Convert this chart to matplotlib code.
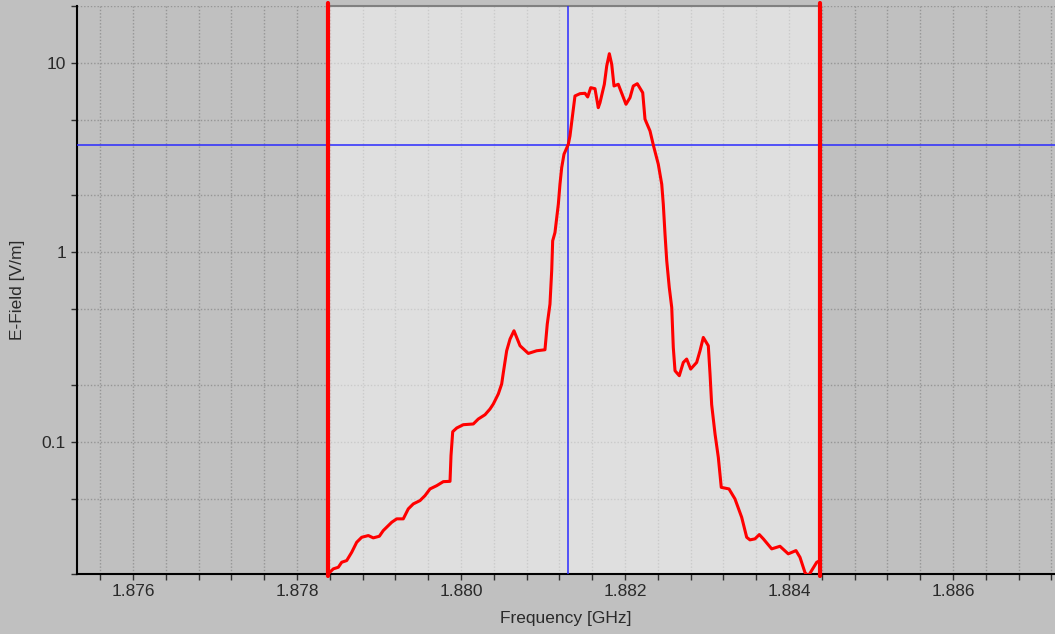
import numpy as np
import matplotlib.pyplot as plt

plt.rcParams['font.family'] = ['Liberation Sans', 'DejaVu Sans']

# spectrum trace
freq_ghz = [
    1.878378, 1.878443, 1.878504, 1.878545, 1.878606, 1.878667, 1.878728, 1.878789,
    1.878870, 1.878930, 1.879004, 1.879052, 1.879155, 1.879216, 1.879296, 1.879357,
    1.879418, 1.879500, 1.879561, 1.879622, 1.879704, 1.879784, 1.879866, 1.879878,
    1.879899, 1.879948, 1.880028, 1.880150, 1.880211, 1.880293, 1.880354, 1.880394,
    1.880455, 1.880496, 1.880516, 1.880557, 1.880598, 1.880646, 1.880720, 1.880821,
    1.880923, 1.881024, 1.881052, 1.881085, 1.881106, 1.881118, 1.881146, 1.881187,
    1.881207, 1.881228, 1.881256, 1.881309, 1.881329, 1.881362, 1.881390, 1.881451,
    1.881512, 1.881545, 1.881582, 1.881634, 1.881674, 1.881695, 1.881748, 1.881777,
    1.881809, 1.881838, 1.881866, 1.881918, 1.882012, 1.882061, 1.882101, 1.882150,
    1.882216, 1.882244, 1.882305, 1.882345, 1.882406, 1.882448, 1.882467, 1.882488,
    1.882509, 1.882540, 1.882570, 1.882589, 1.882610, 1.882662, 1.882711, 1.882752,
    1.882801, 1.882874, 1.882915, 1.882955, 1.883016, 1.883037, 1.883057, 1.883098,
    1.883138, 1.883174, 1.883268, 1.883341, 1.883423, 1.883484, 1.883524, 1.883585,
    1.883638, 1.883687, 1.883789, 1.883890, 1.883991, 1.884085, 1.884134, 1.884195,
    1.884235, 1.884338, 1.884378,
]
efield_vm = [
    0.0200, 0.02129, 0.02171, 0.02307, 0.02355, 0.02604, 0.02942, 0.03126,
    0.03192, 0.03103, 0.03165, 0.03392, 0.03752, 0.03911, 0.03911, 0.04415,
    0.04690, 0.04884, 0.05188, 0.05628, 0.05857, 0.06149, 0.06172, 0.08435,
    0.1129, 0.1181, 0.1229, 0.1240, 0.1317, 0.1388, 0.1488, 0.1581,
    0.1786, 0.2016, 0.2312, 0.3021, 0.3483, 0.3853, 0.3210, 0.2924,
    0.3021, 0.3058, 0.4179, 0.5326, 0.7987, 1.150, 1.272, 1.796,
    2.291, 2.803, 3.298, 3.724, 4.119, 5.363, 6.697, 6.886,
    6.919, 6.616, 7.407, 7.317, 5.808, 6.171, 7.719, 9.642,
    11.197, 9.843, 7.561, 7.719, 6.053, 6.560, 7.561, 7.775,
    6.970, 5.046, 4.376, 3.692, 2.920, 2.291, 1.796, 1.247,
    0.9018, 0.6518, 0.5112, 0.3144, 0.2369, 0.2230, 0.2621, 0.2731,
    0.2418, 0.2621, 0.3021, 0.3551, 0.3210, 0.2277, 0.1568, 0.1098,
    0.08264, 0.05737, 0.05628, 0.04985, 0.03986, 0.03126, 0.03029, 0.03066,
    0.03230, 0.03066, 0.02715, 0.02802, 0.02555, 0.02659, 0.02451, 0.02035,
    0.0195, 0.02307, 0.02355,
]

marker_left = 1.878378
marker_right = 1.884378
cursor_freq = 1.881309
cursor_level = 3.71

x_major = [1.876, 1.878, 1.880, 1.882, 1.884, 1.886]
x_major_labels = ['1.876', '1.878', '1.880', '1.882', '1.884', '1.886']
x_minor = [v for v in np.round(np.arange(1.8756, 1.8872, 0.0004), 4)
           if min(abs(v - m) for m in x_major) > 1e-6]
y_major = [0.1, 1, 10]
y_major_labels = ['0.1', '1', '10']
y_minor = [0.02, 0.05, 0.2, 0.5, 2, 5, 20]

bg = '#c0c0c0'
fig = plt.figure(figsize=(10.55, 6.34), dpi=100, facecolor=bg)
ax = fig.add_axes([77 / 1055, 60 / 634, 978 / 1055, 568 / 634], facecolor=bg)

ax.set_yscale('log')
ax.set_xlim(1.875317, 1.887244)
ax.set_ylim(0.02, 20)

ax.set_xticks(x_major)
ax.set_xticklabels(x_major_labels)
ax.set_xticks(x_minor, minor=True)
ax.set_yticks(y_major)
ax.set_yticklabels(y_major_labels)
ax.set_yticks(y_minor, minor=True)
ax.yaxis.set_minor_formatter(plt.NullFormatter())

ax.tick_params(which='both', direction='out', length=4, width=1, color='#303030',
               labelsize=12.5, labelcolor='#2a2a2a')
ax.tick_params(axis='x', which='both', pad=3)
ax.tick_params(axis='y', which='both', pad=4)

ax.set_axisbelow(True)
ax.grid(which='both', color='#959595', linestyle=(0, (1, 1.4)), linewidth=1)

for s in ['top', 'right']:
    ax.spines[s].set_visible(False)
for s in ['left', 'bottom']:
    ax.spines[s].set_color('black')
    ax.spines[s].set_linewidth(1.5)

# marker region (lighter band)
ax.axvspan(marker_left, marker_right, color='white', alpha=0.5, lw=0, zorder=1)
ax.plot([marker_left, marker_right], [20, 20], color='#808080', lw=1.5,
        clip_on=False, zorder=2)

# cursor crosshair
ax.axvline(cursor_freq, color='#2a2aff', lw=1.1, zorder=3)
ax.axhline(cursor_level, color='#2a2aff', lw=1.1, zorder=3)

ax.plot(freq_ghz, efield_vm, color='#ff0000', lw=2.2, zorder=4)

for m in [marker_left, marker_right]:
    ax.axvline(m, ymin=-0.004, ymax=1.005, color='#ff0000', lw=3,
               solid_capstyle='round', clip_on=False, zorder=5)

fig.text(18 / 1055, 1 - 290 / 634, 'E-Field [V/m]', rotation=90,
         ha='center', va='center', fontsize=12.5, color='#2a2a2a')
fig.text(566 / 1055, 1 - 618 / 634, 'Frequency [GHz]',
         ha='center', va='center', fontsize=12.5, color='#2a2a2a')

fig.savefig('out.png', dpi=100, facecolor=bg)
